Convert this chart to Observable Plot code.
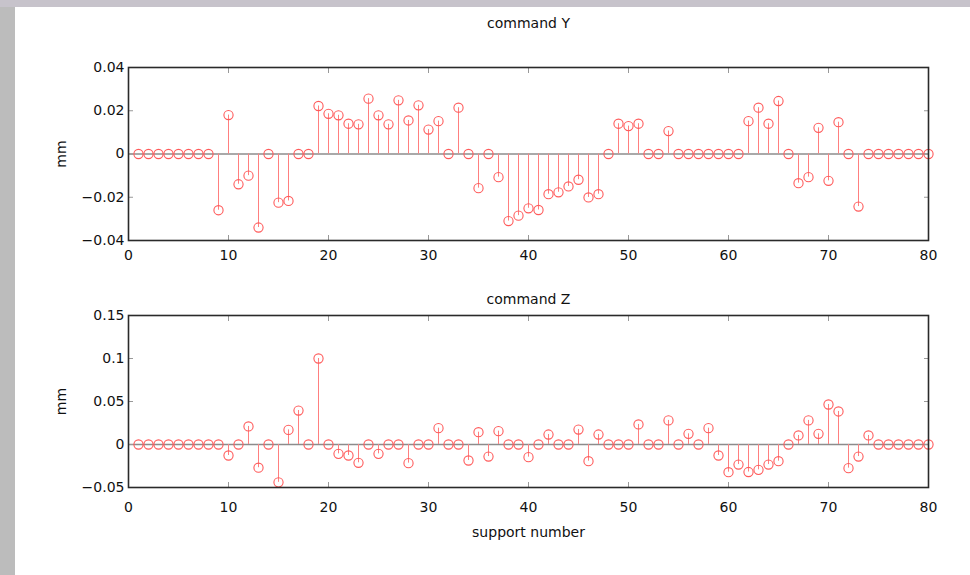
<!DOCTYPE html>
<html>
<head>
<meta charset="utf-8">
<script src="https://cdn.jsdelivr.net/npm/d3@7"></script>
<script src="https://cdn.jsdelivr.net/npm/@observablehq/plot@0.6"></script>
<style>
  html, body { margin: 0; padding: 0; }
  body { width: 970px; height: 575px; overflow: hidden; background: #bcbcbc; font-family: "DejaVu Sans", sans-serif; }
  #wrap { position: relative; width: 970px; height: 575px; }
  #topband { position: absolute; left: 0; top: 0; width: 970px; height: 7px; background: #c7c3cb; }
  #panel { position: absolute; left: 15px; top: 7px; width: 955px; height: 568px; background: #ffffff; }
  .chart { position: absolute; left: 0; }
  #c1 { top: 0; }
  #c2 { top: 275px; }
</style>
</head>
<body>
<div id="wrap">
  <div id="topband"></div>
  <div id="panel"></div>
  <div id="c1" class="chart"></div>
  <div id="c2" class="chart"></div>
</div>
<script>
// Support numbers 1..80
const supports = [1,2,3,4,5,6,7,8,9,10,11,12,13,14,15,16,17,18,19,20,
  21,22,23,24,25,26,27,28,29,30,31,32,33,34,35,36,37,38,39,40,
  41,42,43,44,45,46,47,48,49,50,51,52,53,54,55,56,57,58,59,60,
  61,62,63,64,65,66,67,68,69,70,71,72,73,74,75,76,77,78,79,80];

// command Y (mm)
const commandY = [
  0, 0, 0, 0, 0, 0, 0, 0, -0.026, 0.018,
  -0.014, -0.010, -0.034, 0, -0.0225, -0.0217, 0, 0, 0.0222, 0.0186,
  0.0179, 0.014, 0.0137, 0.0256, 0.0179, 0.0137, 0.0248, 0.0155, 0.0225, 0.0113,
  0.0152, 0, 0.0214, 0, -0.0158, 0, -0.0107, -0.031, -0.0285, -0.0251,
  -0.0259, -0.0186, -0.0177, -0.015, -0.0119, -0.0201, -0.0186, 0, 0.014, 0.0129,
  0.014, 0, 0, 0.0106, 0, 0, 0, 0, 0, 0,
  0, 0.0152, 0.0214, 0.014, 0.0245, 0, -0.0135, -0.0107, 0.0121, -0.0124,
  0.0147, 0, -0.0243, 0, 0, 0, 0, 0, 0, 0
];

// command Z (mm)
const commandZ = [
  0, 0, 0, 0, 0, 0, 0, 0, 0, -0.0128,
  0, 0.021, -0.027, 0, -0.044, 0.017, 0.0395, 0, 0.1, 0,
  -0.0109, -0.0128, -0.0213, 0, -0.0109, 0, 0, -0.0217, 0, 0,
  0.019, 0, 0, -0.0186, 0.0143, -0.014, 0.0155, 0, 0, -0.0147,
  0, 0.0116, 0, 0, 0.0174, -0.0194, 0.0116, 0, 0, 0,
  0.0233, 0, 0, 0.028, 0, 0.0124, 0, 0.019, -0.0128, -0.0322,
  -0.0233, -0.032, -0.0295, -0.0233, -0.0194, 0, 0.0105, 0.028, 0.0124, 0.0465,
  0.0384, -0.0275, -0.014, 0.0105, 0, 0, 0, 0, 0, 0
];

const xTicks = [0, 10, 20, 30, 40, 50, 60, 70, 80];
const yTicksY = [-0.04, -0.02, 0, 0.02, 0.04];
const yTicksZ = [-0.05, 0, 0.05, 0.1, 0.15];
const yTickLabelsY = ["\u22120.04", "\u22120.02", "0", "0.02", "0.04"];
const yTickLabelsZ = ["\u22120.05", "0", "0.05", "0.1", "0.15"];
const titles = ["command Y", "command Z"];
const xLabel = "support number";
const yLabel = "mm";

const stemColor = "#ff7f7f";
const dotColor = "#ff5a5a";
const FONT = "'DejaVu Sans', sans-serif";

function makeLabeler(ticks, labels) {
  return d => {
    const i = ticks.findIndex(t => Math.abs(t - d) < 1e-9);
    return i >= 0 ? labels[i] : "";
  };
}

function stemPlot({values, yDomain, yTicks, yLabels, title, titleDy, xPad, height, marginTop, marginBottom, showXLabel}) {
  const data = supports.map((s, i) => ({s, v: values[i]}));
  const marks = [
    Plot.ruleY([0], {stroke: "#8c8c8c", strokeWidth: 1.6}),
    Plot.ruleX(data, {x: "s", y1: 0, y2: "v", stroke: stemColor, strokeWidth: 1}),
    Plot.dot(data, {x: "s", y: "v", r: 4.6, stroke: dotColor, strokeWidth: 1.1, fill: "none"}),
    // inward ticks on all four sides
    Plot.axisX(xTicks, {anchor: "bottom", tickSize: -5, tickPadding: xPad, stroke: "#999", tickFormat: d => String(d), fontSize: 14, fill: "#111", label: null}),
    Plot.axisX(xTicks, {anchor: "top", tickSize: -5, stroke: "#999", tickFormat: () => "", label: null}),
    Plot.axisY(yTicks, {anchor: "left", tickSize: -5, tickPadding: 9, stroke: "#999", tickFormat: makeLabeler(yTicks, yLabels), fontSize: 14, fill: "#111",
      label: yLabel, labelAnchor: "center", labelArrow: "none", labelOffset: 72}),
    Plot.axisY(yTicks, {anchor: "right", tickSize: -5, stroke: "#999", tickFormat: () => "", label: null}),
    Plot.frame({stroke: "#2a2a2a", strokeWidth: 1.6}),
    Plot.text([title], {frameAnchor: "top", dy: titleDy, fontSize: 14, fill: "#111", lineAnchor: "bottom"})
  ];
  if (showXLabel) {
    marks.push(Plot.text([xLabel], {frameAnchor: "bottom", dy: 40, fontSize: 14, fill: "#111", lineAnchor: "top"}));
  }
  return Plot.plot({
    width: 970,
    height,
    marginLeft: 128,
    marginRight: 42,
    marginTop,
    marginBottom,
    style: {background: "transparent", fontFamily: FONT, fontSize: "14px", color: "#111"},
    x: {domain: [0, 80]},
    y: {domain: yDomain},
    marks
  });
}

document.getElementById("c1").append(stemPlot({
  values: commandY, yDomain: [-0.04, 0.04], yTicks: yTicksY, yLabels: yTickLabelsY,
  title: titles[0], titleDy: -40, xPad: 15, height: 275, marginTop: 67, marginBottom: 35, showXLabel: false
}));
document.getElementById("c2").append(stemPlot({
  values: commandZ, yDomain: [-0.05, 0.15], yTicks: yTicksZ, yLabels: yTickLabelsZ,
  title: titles[1], titleDy: -12, xPad: 20, height: 300, marginTop: 40, marginBottom: 88, showXLabel: true
}));
</script>
</body>
</html>
